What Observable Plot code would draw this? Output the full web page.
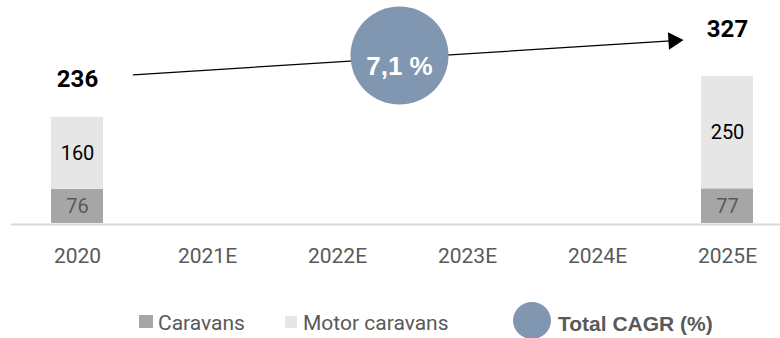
<!DOCTYPE html>
<html>
<head>
<meta charset="utf-8">
<script src="https://cdn.jsdelivr.net/npm/d3@7"></script>
<script src="https://cdn.jsdelivr.net/npm/@observablehq/plot@0.6"></script>
<style>
  body { margin: 0; background: #fff; }
  #wrap { position: relative; width: 780px; height: 338px; overflow: hidden; background: #fff; }
  .lg { position: absolute; line-height: 1; white-space: nowrap; }
  .sw { position: absolute; }
</style>
</head>
<body>
<div id="wrap"></div>
<script>
// ---- data ----
const categories = ["2020", "2021E", "2022E", "2023E", "2024E", "2025E"];
const seriesNames = ["Caravans", "Motor caravans"];
const caravans = [76, null, null, null, null, 77];
const motorCaravans = [160, null, null, null, null, 250];
const totals = [236, null, null, null, null, 327];
const cagrLabel = "7,1 %";
const legendCagr = "Total CAGR (%)";

const seriesColors = ["#a6a6a6", "#e6e6e6"];
const labelColors = ["#595959", "#000000"];
const cagrColor = "#8096b1";

// ---- table ----
const rows = [];
categories.forEach((year, i) => {
  let base = 0;
  [caravans[i], motorCaravans[i]].forEach((v, s) => {
    if (v == null) return;
    rows.push({year, series: seriesNames[s], value: v, mid: base + v / 2, si: s});
    base += v;
  });
});
const totalRows = categories.map((year, i) => ({year, total: totals[i]})).filter(d => d.total != null);
const first = totalRows[0], last = totalRows[totalRows.length - 1];

const chart = Plot.plot({
  width: 780,
  height: 300,
  marginLeft: 11,
  marginRight: 0,
  marginTop: 0,
  marginBottom: 77,
  style: {fontFamily: "Roboto", background: "white", overflow: "visible"},
  x: {domain: categories, range: [12, 792], paddingInner: 0.6, paddingOuter: 0.3, align: 0.5},
  y: {domain: [0, 400], range: [223, 43], axis: null},
  color: {domain: seriesNames, range: seriesColors},
  marks: [
    Plot.barY(rows, {x: "year", y1: d => d.mid - d.value / 2, y2: d => d.mid + d.value / 2, fill: "series"}),
    Plot.ruleY([0], {stroke: "#d9d9d9", strokeWidth: 2, dy: 1}),
    Plot.axisX({tickSize: 0, tickPadding: 25, fontSize: 21, fill: "#595959"}),
    Plot.text(rows, {x: "year", y: "mid", text: d => String(d.value), fontSize: 20,
      fill: d => labelColors[d.si]}),
    Plot.text([first], {x: "year", y: "total", text: d => String(d.total), dy: -38,
      fontSize: 24, fontWeight: "bold", fill: "#000"}),
    Plot.text([last], {x: "year", y: "total", text: d => String(d.total), dy: -47,
      fontSize: 24, fontWeight: "bold", fill: "#000"}),
    Plot.arrow([{a: first.year, b: first.total, c: last.year, d: last.total}], {
      x1: "a", y1: "b", x2: "c", y2: "d", dy: -39,
      insetStart: 56, insetEnd: 57, headLength: 0, stroke: "#000", strokeWidth: 1.3
    }),
    Plot.dot([last], {x: "year", y: "total", symbol: "triangle", r: 6.5, rotate: 86.4,
      dx: -54, dy: -35.7, fill: "#000", stroke: null}),
    Plot.dot([cagrLabel], {x: () => "2022E", frameAnchor: "top", dx: 62, dy: 55, r: 49,
      fill: cagrColor, stroke: null}),
    Plot.text([cagrLabel], {x: () => "2022E", frameAnchor: "top", dx: 62, dy: 56,
      text: d => d, fill: "#fff", fontSize: 26, fontWeight: "bold",
      fontFamily: "Liberation Sans, Arial, sans-serif"})
  ]
});

const wrap = document.getElementById("wrap");
wrap.appendChild(chart);

// ---- legend ----
function add(html) { wrap.insertAdjacentHTML("beforeend", html); }
add(`<div class="sw" style="left:139px;top:315px;width:14px;height:13px;background:${seriesColors[0]}"></div>`);
add(`<div class="lg" style="left:158px;top:311px;font:21px Roboto;color:#595959">${seriesNames[0]}</div>`);
add(`<div class="sw" style="left:285px;top:316px;width:12px;height:12px;background:${seriesColors[1]}"></div>`);
add(`<div class="lg" style="left:303px;top:311px;font:21px Roboto;color:#595959">${seriesNames[1]}</div>`);
add(`<div class="sw" style="left:513px;top:302px;width:38px;height:37px;border-radius:50%;background:${cagrColor}"></div>`);
add(`<div class="lg" style="left:558px;top:312px;font:bold 21px 'Liberation Sans', Arial, sans-serif;color:#595959">${legendCagr}</div>`);
</script>
</body>
</html>
